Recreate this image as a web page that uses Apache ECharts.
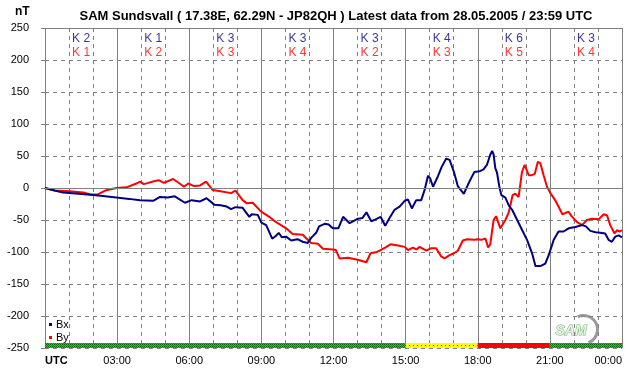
<!DOCTYPE html>
<html><head><meta charset="utf-8">
<script src="https://cdn.jsdelivr.net/npm/echarts@6/dist/echarts.min.js"></script>
<style>html,body{margin:0;padding:0;background:#fff}#c{width:642px;height:376px}</style>
</head><body><div id="c"></div>
<script>
const bxHours = [0,0.4,0.75,1.4,2.0,2.5,2.97,3.5,3.95,4.5,4.78,5.1,5.4,5.82,6.1,6.45,6.72,7.04,7.3,7.56,7.74,7.92,8.22,8.5,8.6,8.85,9.0,9.2,9.45,9.6,9.72,9.85,10.03,10.24,10.5,10.72,10.93,11.07,11.28,11.4,11.63,11.8,11.97,12.05,12.2,12.4,12.67,13.02,13.2,13.37,13.57,13.75,13.96,14.15,14.33,14.54,14.75,14.96,15.1,15.26,15.44,15.65,15.79,15.93,16.02,16.14,16.34,16.5,16.69,16.83,17.01,17.17,17.42,17.59,17.72,17.86,18.07,18.24,18.38,18.52,18.6,18.66,18.73,18.8,18.9,18.98,19.15,19.29,19.43,19.64,19.85,20.05,20.26,20.4,20.6,20.81,20.95,21.16,21.36,21.57,21.78,22.06,22.34,22.5,22.68,22.9,23.1,23.3,23.44,23.58,23.72,23.86,24];
const bxValues = [0,-4,-7,-9,-11,-13,-15,-17,-19,-20,-14,-15,-13,-23,-19,-21,-16,-26,-27,-29,-33,-30,-31,-45,-41,-42,-54,-58,-79,-75,-70,-77,-76,-82,-80,-84,-86,-78,-70,-60,-56,-57,-63,-61,-63,-45,-55,-48,-47,-38,-52,-49,-45,-59,-47,-34,-29,-20,-18,-32,-19,-19,-3,19,15,2,18,33,46,44,25,3,-9,5,15,25,26,29,36,52,58,52,31,24,2,-11,-15,-27,-34,-50,-66,-81,-102,-122,-122,-118,-105,-81,-68,-68,-63,-61,-58,-60,-67,-69,-70,-71,-81,-84,-76,-74,-77];
const byHours = [0,0.4,1.03,1.58,1.9,2.2,2.5,2.97,3.39,3.8,3.95,4.11,4.57,4.75,4.94,5.33,5.6,5.78,5.96,6.2,6.45,6.7,6.97,7.3,7.74,7.92,8.22,8.4,8.64,8.99,9.33,9.6,10.03,10.3,10.72,11.07,11.35,11.56,11.97,12.1,12.25,12.6,13.0,13.37,13.54,13.8,13.96,14.2,14.37,14.68,14.96,15.1,15.3,15.45,15.58,15.86,16.07,16.27,16.48,16.62,16.83,17.01,17.17,17.38,17.55,17.86,18.0,18.15,18.32,18.43,18.52,18.66,18.76,18.94,19.15,19.3,19.45,19.56,19.7,19.84,19.95,20.12,20.25,20.37,20.5,20.6,20.74,20.88,21.02,21.22,21.36,21.52,21.78,21.9,22.12,22.34,22.54,22.75,23.03,23.24,23.38,23.51,23.69,23.8,23.9,24];
const byValues = [0,-4,-5,-7,-10,-10,-4,0,1,7,10,6,11,12,8,14,7,2,7,3,4,10,-3,-5,-8,-4,-19,-24,-23,-37,-45,-53,-63,-72,-73,-86,-87,-95,-96,-97,-110,-109,-112,-116,-102,-100,-97,-92,-88,-90,-92,-97,-93,-96,-92,-98,-94,-94,-107,-110,-105,-102,-98,-82,-80,-81,-80,-81,-79,-93,-88,-50,-44,-63,-50,-37,-11,-9,-14,25,36,20,20,22,41,39,20,2,-8,-19,-29,-41,-37,-44,-53,-58,-50,-48,-49,-41,-43,-58,-71,-66,-68,-66];
const kHours = [1.5,4.5,7.5,10.5,13.5,16.5,19.5,22.5];
const kBx = [2,1,3,3,3,4,6,3];
const kBy = [1,2,3,4,2,3,5,4];
const xTickLabels = ['UTC','03:00','06:00','09:00','12:00','15:00','18:00','21:00','00:00'];
const bandStarts = [0,15,18,21];
const bandEnds = [15,18,21,24];
const bandLevels = ['quiet','active','storm','quiet'];

function pattern(bg, dot, step){
  const c = document.createElement('canvas'); c.width = step; c.height = step;
  const g = c.getContext('2d'); g.fillStyle = bg; g.fillRect(0,0,step,step);
  g.fillStyle = dot;
  if (step === 2){ g.fillRect(0,0,1,1); g.fillRect(1,1,1,1); }
  else { g.fillRect(1,1,1,1); }
  return {image: c, repeat: 'repeat'};
}
const bandFill = {
  quiet: pattern('#00d800','#007000',2),
  active: pattern('#ffff00','#ff0000',4),
  storm: '#ff0000'
};

const zip = (a,b) => a.map((v,i)=>[v,b[i]]);
const GRAY = '#808080';
const chart = echarts.init(document.getElementById('c'), null, {renderer:'canvas'});
chart.setOption({
  animation:false,
  backgroundColor:'#fff',
  textStyle:{fontFamily:'Liberation Sans, Arial, sans-serif'},
  title:{text:'SAM Sundsvall ( 17.38E, 62.29N - JP82QH ) Latest data from 28.05.2005 / 23:59 UTC',
    left:331, top:5, textAlign:'center',
    textStyle:{fontSize:13,fontWeight:'bold',color:'#000',fontFamily:'Liberation Sans, Arial, sans-serif'}},
  grid:{left:45,right:20,top:28,bottom:28},
  legend:{data:['Bx','By'], orient:'vertical', left:49, top:318, icon:'rect', itemWidth:3, itemHeight:3, itemGap:0,
    padding:0, textStyle:{fontSize:11,color:'#000',padding:[0,0,0,-1],lineHeight:13}},
  xAxis:{type:'value',min:0,max:24,interval:3,
    axisLine:{lineStyle:{color:GRAY}},
    axisTick:{show:true,length:4,lineStyle:{color:GRAY}},
    minorTick:{show:true,splitNumber:3,length:4,lineStyle:{color:GRAY}},
    splitLine:{show:true,lineStyle:{color:GRAY,width:1}},
    minorSplitLine:{show:true,lineStyle:{color:GRAY,type:[4,4]}},
    axisLabel:{margin:7,fontSize:11,color:'#000',showMinLabel:true,showMaxLabel:true,
      alignMinLabel:'left',alignMaxLabel:'right',
      formatter:v=>{const s=xTickLabels[Math.round(v/3)]; return v===0?'{b|'+s+'}':s;},
      rich:{b:{fontWeight:'bold',fontSize:11,color:'#000'}}}},
  yAxis:{type:'value',min:-250,max:250,interval:50,
    axisLine:{show:false},
    axisTick:{show:true,length:4,lineStyle:{color:GRAY}},
    splitLine:{show:true,lineStyle:{color:GRAY,type:[4,4]}},
    axisLabel:{margin:16,fontSize:11,color:'#000'}},
  graphic:[
    {type:'text',left:15,top:6,style:{text:'nT',font:'bold 12px Liberation Sans',fill:'#000'}},
    {type:'group',left:555,top:313,children:[
      {type:'arc',shape:{cx:30,cy:10,r:14,startAngle:-2.0,endAngle:1.2},style:{stroke:'#9a9a9a',lineWidth:3,fill:null}},
      {type:'text',x:2,y:5,style:{text:'SAM',font:'italic bold 14px Liberation Sans',fill:'#e8f0e8',stroke:'#6cb86c',lineWidth:1}}
    ]}
  ],
  series:[
    {name:'frame',type:'line',data:[],silent:true,z:1,
      markLine:{silent:true,symbol:'none',label:{show:false},lineStyle:{color:GRAY,type:'solid',width:1},
        data:[{yAxis:0},{yAxis:250}]},
      markArea:{silent:true,data:bandStarts.map((s,i)=>[
        {xAxis:s,yAxis:-250,itemStyle:{color:bandFill[bandLevels[i]]}},
        {xAxis:bandEnds[i],yAxis:-242.2}])}},
    {name:'Bx',type:'line',data:zip(bxHours,bxValues),showSymbol:false,color:'#000080',
      lineStyle:{width:2,color:'#000080'},z:3},
    {name:'By',type:'line',data:zip(byHours,byValues),showSymbol:false,color:'#ff0000',
      lineStyle:{width:2,color:'#ff0000'},z:2},
    {name:'Kx',type:'scatter',symbolSize:0,silent:true,data:kHours.map((h,i)=>[h,234,kBx[i]]),
      label:{show:true,position:'inside',formatter:p=>'K '+p.value[2],color:'#000080',fontSize:12}},
    {name:'Ky',type:'scatter',symbolSize:0,silent:true,data:kHours.map((h,i)=>[h,212,kBy[i]]),
      label:{show:true,position:'inside',formatter:p=>'K '+p.value[2],color:'#ff0000',fontSize:12}}
  ]
});
</script></body></html>
